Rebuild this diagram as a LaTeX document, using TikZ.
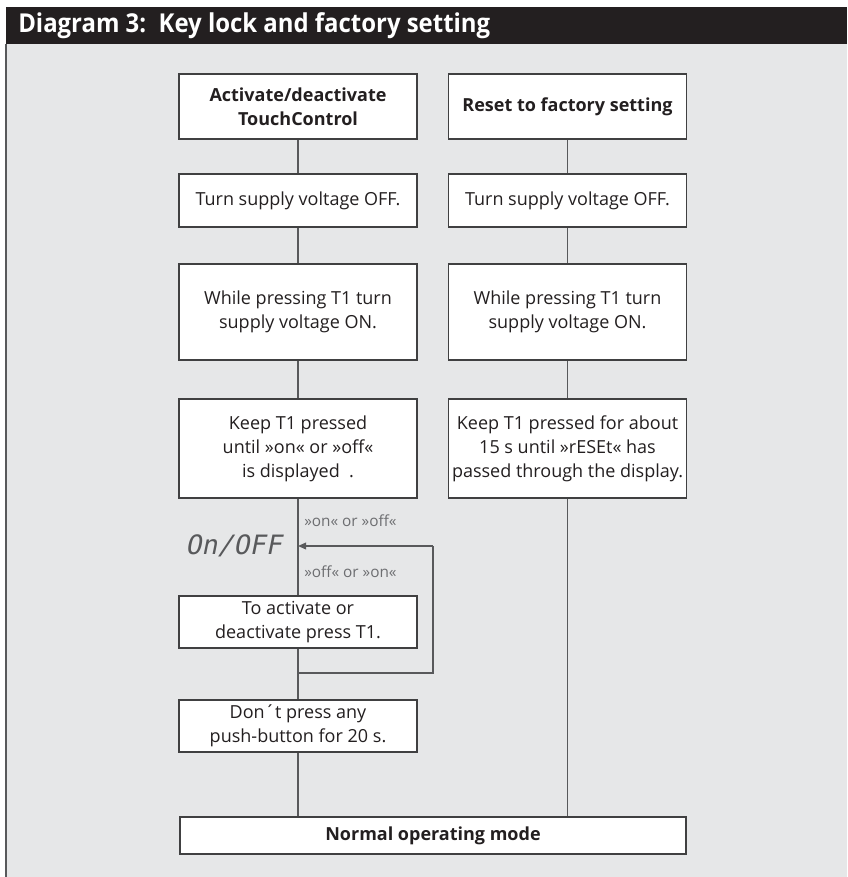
\documentclass[tikz,border=0pt]{standalone}
\usepackage{fontspec}
\setmainfont{Open Sans}
\newfontfamily\segfont{DejaVu Sans Mono}[FakeSlant=0.2]
\newfontfamily\titlefont{Open Sans}[FakeStretch=0.92]
\usetikzlibrary{arrows.meta}
\definecolor{panelgray}{HTML}{E6E7E8}
\definecolor{barblack}{HTML}{231F20}
\definecolor{framegray}{HTML}{404041}
\definecolor{linegray}{HTML}{58595B}
\definecolor{lblgray}{HTML}{6D6E71}

\begin{document}
\begin{tikzpicture}[x=0.75pt,y=-0.75pt,
    box/.style={draw=framegray,line width=1.2pt,fill=white,align=center,
      inner sep=0pt,minimum width=178.5pt,text=barblack,
      font=\fontsize{13.5}{18}\selectfont},
    headbox/.style={box,font=\fontsize{13.5}{18}\selectfont\bfseries},
    line/.style={draw=linegray,line width=1pt},
    lbl/.style={anchor=west,text=lblgray,font=\fontsize{11.5}{13}\selectfont,inner sep=0pt}]
    \useasboundingbox (0,0) rectangle (847,877);
    \fill[white] (0,0) rectangle (847,877);
    % frame and title bar
    \fill[panelgray] (6,44) rectangle (847,877);
    \fill[barblack] (6,7) rectangle (847,44);
    \draw[linegray,line width=1.2pt] (6,44) -- (6,877);
    \node[anchor=west,text=white,inner sep=0pt,
      font=\fontsize{19.5}{21}\titlefont\bfseries] (title) at (18,26)
      {Diagram 3:\ \ Key lock and factory setting};
    % left column
    \node[headbox,minimum height=48.75pt] (actL) at (298,106.5) {Activate/deactivate\\TouchControl};
    \node[box,minimum height=39.75pt] (offL) at (298,200.5) {Turn supply voltage OFF.};
    \node[box,minimum height=72pt] (onL) at (298,312) {While pressing T1 turn\\supply voltage ON.};
    \node[box,minimum height=74pt] (keepL) at (298,448.5) {Keep T1 pressed\\until »on« or »off«\\is displayed\ \ .};
    \node[box,minimum height=39pt] (toggleL) at (298,622) {To activate or\\deactivate press T1.};
    \node[box,minimum height=39pt] (waitL) at (298,726) {Don´t press any\\push-button for 20 s.};
    % right column
    \node[headbox,minimum height=48.75pt] (resetR) at (567.5,106.5) {Reset to factory setting};
    \node[box,minimum height=39.75pt] (offR) at (567.5,200.5) {Turn supply voltage OFF.};
    \node[box,minimum height=72pt] (onR) at (567.5,312) {While pressing T1 turn\\supply voltage ON.};
    \node[box,minimum height=74pt] (keepR) at (567.5,448.5) {Keep T1 pressed for about\\15 s until »rESEt« has\\passed through the display.};
    % common end
    \node[headbox,minimum width=379.5pt,minimum height=27.75pt] (normal) at (433,835.5) {Normal operating mode};
    % display and its labels
    \node[anchor=west,inner sep=0pt,text=linegray,font=\fontsize{20}{21}\selectfont\segfont] (disp) at (185,546) {On/OFF};
    \node[lbl] (lblOn) at (304,521) {»on« or »off«};
    \node[lbl] (lblOff) at (304,572) {»off« or »on«};
    % connectors
    \draw[line] (actL) -- (offL);
    \draw[line] (offL) -- (onL);
    \draw[line] (onL) -- (keepL);
    \draw[line] (keepL) -- (toggleL);
    \draw[line] (toggleL) -- (waitL);
    \draw[line] (waitL) -- (waitL |- normal.north);
    \draw[line] (resetR) -- (offR);
    \draw[line] (offR) -- (onR);
    \draw[line] (onR) -- (keepR);
    \draw[line] (keepR) -- (keepR |- normal.north);
    % loop back to the display
    \coordinate (join) at (298,673);
    \coordinate (loopSE) at (433,673);
    \coordinate (loopNE) at (433,546);
    \coordinate (hit) at (298,546);
    \draw[line] (join) -- (loopSE) -- (loopNE);
    \draw[line,-{Triangle[length=6pt,width=5pt]},fill=barblack] (loopNE) -- (hit);
\end{tikzpicture}
\end{document}
